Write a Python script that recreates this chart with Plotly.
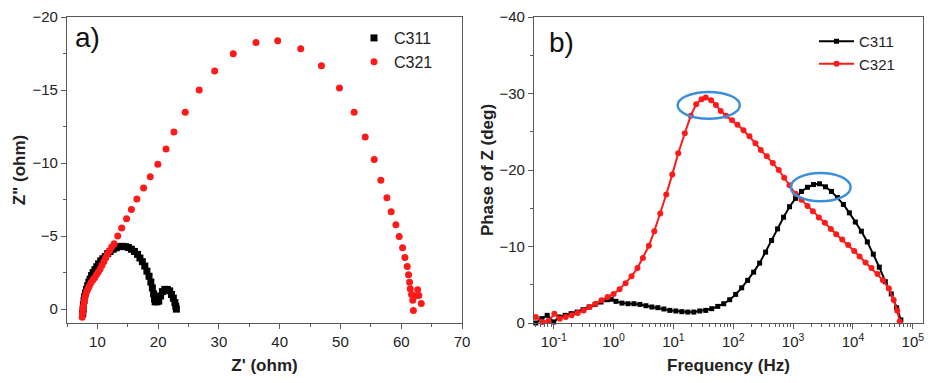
import plotly.graph_objects as go

# ---------------- Panel a) Nyquist data ----------------
c311_zre = [7.6, 7.65, 7.7, 7.8, 7.9, 8.05, 8.2, 8.4, 8.6, 8.8, 9.05, 9.3, 9.6, 9.9, 10.2, 10.55,
            10.9, 11.3, 11.7, 12.1, 12.6, 13.1, 13.6, 14.1, 14.6, 15.1, 15.6, 16.1, 16.6, 17.0,
            17.4, 17.8, 18.15, 18.5, 18.8, 19.05, 19.25, 19.4, 19.5, 19.8, 20.1, 20.4, 20.7,
            21.1, 21.5, 21.9, 22.2, 22.5, 22.75, 22.9, 23.0]
c311_zim = [0.3, 0.0, -0.3, -0.6, -0.85, -1.1, -1.35, -1.6, -1.85, -2.05, -2.3, -2.5, -2.7, -2.9,
            -3.1, -3.3, -3.45, -3.6, -3.8, -3.95, -4.1, -4.2, -4.28, -4.3, -4.28, -4.22, -4.1,
            -3.95, -3.75, -3.5, -3.25, -2.95, -2.6, -2.25, -1.85, -1.45, -1.05, -0.7, -0.5, -0.5,
            -0.55, -0.9, -1.2, -1.35, -1.35, -1.25, -1.0, -0.75, -0.45, -0.2, 0.0]

c321_zre = [7.5, 7.55, 7.6, 7.7, 7.8, 7.9, 8.05, 8.25, 8.45, 8.7, 8.95, 9.25, 9.55, 9.85, 10.15,
            10.45, 10.75, 11.05, 11.35, 11.65, 12.0, 12.35,
            12.75, 13.35, 14.0, 14.8, 15.6, 16.5, 17.6, 18.7, 19.95, 21.3, 22.6, 24.45, 26.76,
            29.3, 32.36, 36.1, 39.67, 43.46, 46.87, 49.84, 52.25, 54.07, 55.55, 56.65, 57.64,
            58.35, 59.12, 59.67, 60.22, 60.6, 60.99, 61.2, 61.37, 61.48, 61.7, 61.9, 62.0, 62.3,
            62.7, 62.9, 63.3]
c321_zim = [0.55, 0.3, 0.05, -0.2, -0.45, -0.7, -0.95, -1.2, -1.4, -1.6, -1.8, -2.0, -2.15, -2.35,
            -2.55, -2.75, -3.0, -3.25, -3.5, -3.75, -4.0, -4.25,
            -4.48, -5.0, -5.56, -6.19, -6.82, -7.54, -8.30, -9.07, -9.92, -10.96, -12.13, -13.48,
            -15.0, -16.31, -17.48, -18.25, -18.38, -17.82, -16.67, -15.14, -13.48, -11.79,
            -10.24, -8.82, -7.63, -6.66, -5.78, -4.97, -4.21, -3.53, -2.92, -2.36, -1.84, -1.39,
            -1.0, -0.6, 0.1, -0.9, -1.33, -0.94, -0.38]

# ---------------- Panel b) Bode phase data ----------------
c311_logf = [-1.3, -1.2, -1.11, -1.0, -0.91, -0.81, -0.71, -0.61, -0.51, -0.41,
             -0.31, -0.21, -0.11, -0.04, 0.04, 0.14, 0.24, 0.34, 0.44, 0.54,
             0.64, 0.74, 0.84, 0.94, 1.04, 1.14, 1.24, 1.34, 1.44, 1.54,
             1.64, 1.74, 1.84, 1.94, 2.04, 2.14, 2.24, 2.34, 2.44, 2.54,
             2.64, 2.74, 2.84, 2.94, 3.04, 3.14, 3.24, 3.34, 3.44, 3.54,
             3.64, 3.74, 3.84, 3.94, 4.04, 4.14, 4.24, 4.34, 4.44, 4.54,
             4.64, 4.73, 4.8]
c311_phase = [0.0, -0.57, -1.0, -0.13, -0.78, -1.0, -1.22, -1.43, -1.74, -2.09,
              -2.43, -2.74, -3.04, -3.1, -2.83, -2.6, -2.52, -2.52, -2.43, -2.26,
              -2.09, -2.0, -1.83, -1.65, -1.57, -1.48, -1.43, -1.43, -1.57, -1.65,
              -1.87, -2.17, -2.52, -3.04, -3.74, -4.6, -5.57, -6.65, -7.83, -9.26,
              -10.78, -12.3, -13.83, -15.2, -16.3, -17.2, -17.74, -18.1, -18.2, -17.8,
              -17.2, -16.4, -15.5, -14.4, -13.2, -12.0, -10.6, -9.0, -7.3, -5.4,
              -3.8, -2.0, -0.4]

c321_logf = [-1.3, -1.19, -1.09, -0.99, -0.9, -0.8, -0.7, -0.6, -0.5, -0.4,
             -0.3, -0.2, -0.1, 0.0, 0.1, 0.2, 0.3, 0.4, 0.49, 0.59,
             0.68, 0.78, 0.88, 0.98, 1.08, 1.19, 1.29, 1.38, 1.47, 1.54,
             1.63, 1.71, 1.79, 1.88, 1.98, 2.07, 2.17, 2.27, 2.37, 2.46,
             2.56, 2.66, 2.76, 2.85, 2.94, 3.04, 3.14, 3.24, 3.33, 3.43,
             3.53, 3.63, 3.72, 3.82, 3.92, 4.02, 4.11, 4.21, 4.31, 4.41,
             4.5, 4.6, 4.68, 4.74, 4.78]
c321_phase = [-0.78, -0.13, -0.26, -1.2, -0.57, -0.78, -1.0, -1.3, -1.65, -2.09,
              -2.52, -2.96, -3.4, -3.8, -4.4, -5.2, -6.1, -7.2, -8.5, -10.1,
              -12.0, -14.3, -16.8, -19.4, -22.2, -24.8, -27.1, -28.6, -29.26, -29.48,
              -29.13, -28.5, -27.7, -27.1, -26.5, -25.9, -25.2, -24.4, -23.5, -22.6,
              -21.8, -20.9, -20.0, -19.0, -18.0, -16.9, -16.1, -15.3, -14.6, -13.8,
              -13.1, -12.3, -11.6, -10.9, -10.2, -9.4, -8.7, -7.9, -7.2, -6.4,
              -5.6, -4.5, -3.0, -1.6, -0.2]

c311_freq = [10 ** v for v in c311_logf]
c321_freq = [10 ** v for v in c321_logf]

# highlighted peaks (ellipses): [log f0, log f1, phase0, phase1]
peak_rings = [[1.07, 2.11, -30.2, -26.7], [2.96, 3.96, -19.6, -15.9]]

x_ticks_a = [10, 20, 30, 40, 50, 60, 70]
y_ticks_a = [-20, -15, -10, -5, 0]
x_ticks_b = [-1, 0, 1, 2, 3, 4, 5]
y_ticks_b = [-40, -30, -20, -10, 0]

FONT = "Liberation Sans, Arial, sans-serif"
RED = "#ff1a1a"
BLACK = "#000000"
FRAME = "#5a5a5a"
TXT = "#222222"

# the page body keeps its default 8px margin, so the figure is 16px smaller
W, H = 917, 367

fig = go.Figure()

fig.add_trace(go.Scatter(x=c311_zre, y=c311_zim, mode="markers", name="C311",
                         marker=dict(symbol="square", size=7, color=BLACK),
                         xaxis="x", yaxis="y", legend="legend", cliponaxis=False))
fig.add_trace(go.Scatter(x=c321_zre, y=c321_zim, mode="markers", name="C321",
                         marker=dict(symbol="circle", size=7, color=RED),
                         xaxis="x", yaxis="y", legend="legend", cliponaxis=False))

fig.add_trace(go.Scatter(x=c311_freq, y=c311_phase, mode="lines+markers", name="C311",
                         line=dict(color=BLACK, width=2),
                         marker=dict(symbol="square", size=5, color=BLACK),
                         xaxis="x2", yaxis="y2", legend="legend2", cliponaxis=False))
fig.add_trace(go.Scatter(x=c321_freq, y=c321_phase, mode="lines+markers", name="C321",
                         line=dict(color=RED, width=2),
                         marker=dict(symbol="circle", size=6, color=RED),
                         xaxis="x2", yaxis="y2", legend="legend2", cliponaxis=False))

for r in peak_rings:
    fig.add_shape(type="circle", xref="x2", yref="y2",
                  x0=10 ** r[0], x1=10 ** r[1], y0=r[2], y1=r[3],
                  line=dict(color="#3d8fdc", width=2.5))

axis_common = dict(showline=True, linecolor=FRAME, linewidth=1.2, mirror=True,
                   ticks="outside", ticklen=5, tickcolor=FRAME, showgrid=False,
                   zeroline=False, tickfont=dict(size=15, color=TXT, family=FONT),
                   ticklabeloverflow="allow", automargin=False)
title_font = dict(size=17, weight="bold", family=FONT, color=TXT)

fig.update_layout(
    width=W, height=H,
    margin=dict(l=0, r=0, t=0, b=0),
    paper_bgcolor="white", plot_bgcolor="white",
    font=dict(family=FONT, color=TXT),
    xaxis=dict(domain=[59 / W, 454 / W], range=[5, 70], anchor="y",
               tickvals=x_ticks_a,
               minor=dict(ticks="outside", ticklen=3, tickcolor=FRAME, dtick=5, tick0=5),
               title=dict(text="Z' (ohm)", font=title_font, standoff=15),
               **axis_common),
    yaxis=dict(domain=[1 - 315 / H, 1 - 9 / H], range=[0.95, -20], anchor="x",
               tickvals=y_ticks_a,
               minor=dict(ticks="outside", ticklen=3, tickcolor=FRAME, dtick=2.5, tick0=0),
               title=dict(text='Z" (ohm)', font=title_font, standoff=2),
               **axis_common),
    xaxis2=dict(domain=[526 / W, 915 / W], type="log", range=[-1.33, 5.17], anchor="y2",
                tickvals=[10 ** v for v in x_ticks_b],
                ticktext=["10<sup>%d</sup>" % v for v in x_ticks_b],
                minor=dict(ticks="outside", ticklen=3, tickcolor=FRAME, dtick="D1"),
                title=dict(text="Frequency (Hz)", font=title_font, standoff=16),
                **axis_common),
    yaxis2=dict(domain=[1 - 315 / H, 1 - 9 / H], range=[0, -40], anchor="x2",
                tickvals=y_ticks_b,
                minor=dict(ticks="outside", ticklen=3, tickcolor=FRAME, dtick=5, tick0=0),
                title=dict(text="Phase of Z (deg)", font=title_font, standoff=1),
                **axis_common),
    legend=dict(x=346 / W, y=1 - 13 / H, xanchor="left", yanchor="top",
                font=dict(size=16, family=FONT, color=TXT), bgcolor="rgba(0,0,0,0)",
                tracegroupgap=0),
    legend2=dict(x=806 / W, y=1 - 17 / H, xanchor="left", yanchor="top",
                 font=dict(size=15, family=FONT, color=TXT), bgcolor="rgba(0,0,0,0)",
                 itemwidth=35, tracegroupgap=0),
    annotations=[
        dict(text="a)", x=65 / W, y=1 - 30 / H, xref="paper", yref="paper",
             xanchor="left", yanchor="middle", showarrow=False,
             font=dict(size=28, family=FONT, color="#111")),
        dict(text="b)", x=539 / W, y=1 - 35 / H, xref="paper", yref="paper",
             xanchor="left", yanchor="middle", showarrow=False,
             font=dict(size=28, family=FONT, color="#111")),
    ],
    showlegend=True,
)

fig.write_html("out.html")
